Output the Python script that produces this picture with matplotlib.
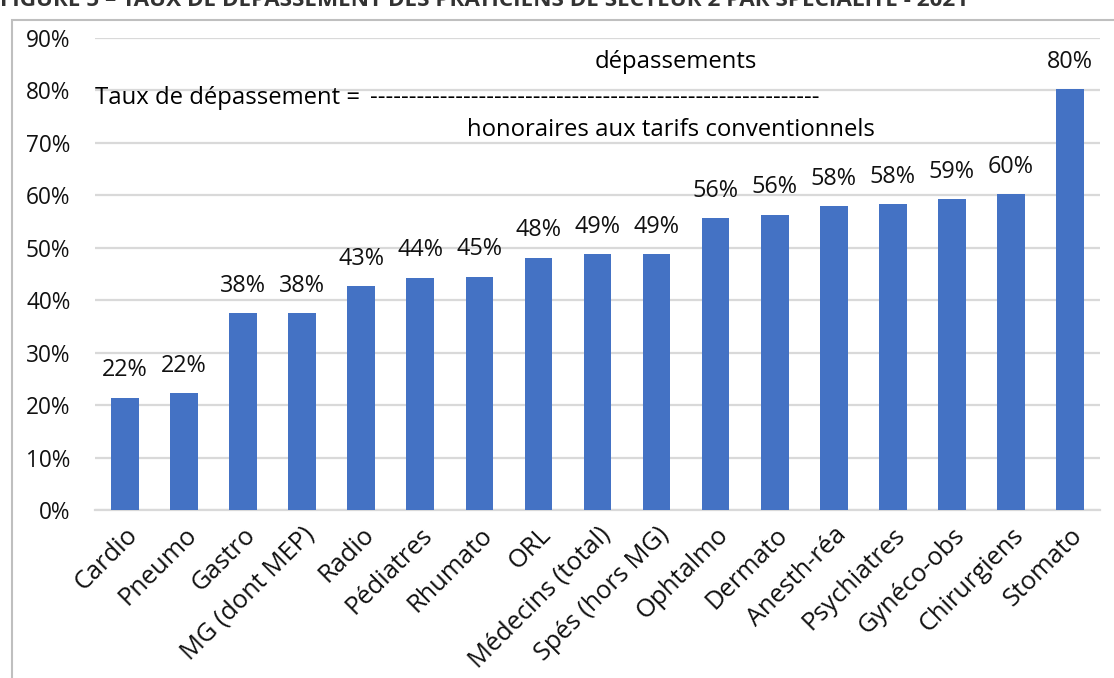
import matplotlib
matplotlib.use("Agg")
import matplotlib.pyplot as plt
from matplotlib.patches import Rectangle
from matplotlib.ticker import FuncFormatter, MultipleLocator

categories = ["Cardio", "Pneumo", "Gastro", "MG (dont MEP)", "Radio", "Pédiatres",
              "Rhumato", "ORL", "Médecins (total)", "Spés (hors MG)", "Ophtalmo",
              "Dermato", "Anesth-réa", "Psychiatres", "Gynéco-obs", "Chirurgiens", "Stomato"]
values = [0.214, 0.223, 0.376, 0.376, 0.427, 0.443, 0.445, 0.481, 0.488, 0.488,
          0.557, 0.563, 0.579, 0.583, 0.593, 0.602, 0.803]
labels = ["22%", "22%", "38%", "38%", "43%", "44%", "45%", "48%", "49%", "49%",
          "56%", "56%", "58%", "58%", "59%", "60%", "80%"]

plt.rcParams['font.family'] = ['Open Sans', 'DejaVu Sans']

W, H = 1114, 678
fig = plt.figure(figsize=(W / 100, H / 100), dpi=100)
ax = fig.add_axes([95.5 / W, 1 - 510 / H, (1099.5 - 95.5) / W, (510 - 38) / H])

x = range(len(categories))
ax.bar(x, values, width=0.47, color="#4472C4", zorder=3)
for xi, v, lab in zip(x, values, labels):
    ax.annotate(lab, (xi, v), xytext=(0, 11), textcoords="offset points",
                ha="center", va="bottom", fontsize=16.8, color="#111111")

ax.set_xlim(-0.5, len(categories) - 0.5)
ax.set_ylim(0, 0.9)
ax.yaxis.set_major_locator(MultipleLocator(0.1))
ax.yaxis.set_major_formatter(FuncFormatter(lambda v, p: f"{round(v * 100)}%"))
ax.grid(axis="y", color="#d9d9d9", linewidth=1.6, zorder=0)
for s in ["top", "right", "left"]:
    ax.spines[s].set_visible(False)
ax.spines["bottom"].set_color("#d9d9d9")
ax.spines["bottom"].set_linewidth(1.6)
ax.tick_params(axis="both", length=0, colors="#111111")
ax.tick_params(axis="y", pad=18, labelsize=16.3)
ax.set_xticks(list(x))
ax.set_xticklabels(categories, rotation=45, ha="right", rotation_mode="anchor", fontsize=18.3)
ax.tick_params(axis="x", pad=9)

# formula annotation
fig.text(676 / W, 1 - 62 / H, "dépassements", ha="center", va="center", fontsize=17.2)
fig.text(95 / W, 1 - 98 / H, "Taux de dépassement =", ha="left", va="center", fontsize=17.2)
fig.text(370 / W, 1 - 98 / H, "-" * 58, ha="left", va="center", fontsize=17.2)
fig.text(671 / W, 1 - 130 / H, "honoraires aux tarifs conventionnels", ha="center", va="center", fontsize=17.2)

# cropped title and frame
fig.text(0, 1 - 6 / H, "FIGURE 5 – TAUX DE DÉPASSEMENT DES PRATICIENS DE SECTEUR 2 PAR SPÉCIALITÉ - 2021",
         ha="left", va="baseline", fontsize=16.2, fontweight="bold", color="#333333")
fig.patches.append(Rectangle((12 / W, -0.1), 1.2, 1 - 20 / H + 0.1, transform=fig.transFigure,
                             fill=False, edgecolor="#bfbfbf", linewidth=1.5))

fig.savefig("out.png", dpi=100)
